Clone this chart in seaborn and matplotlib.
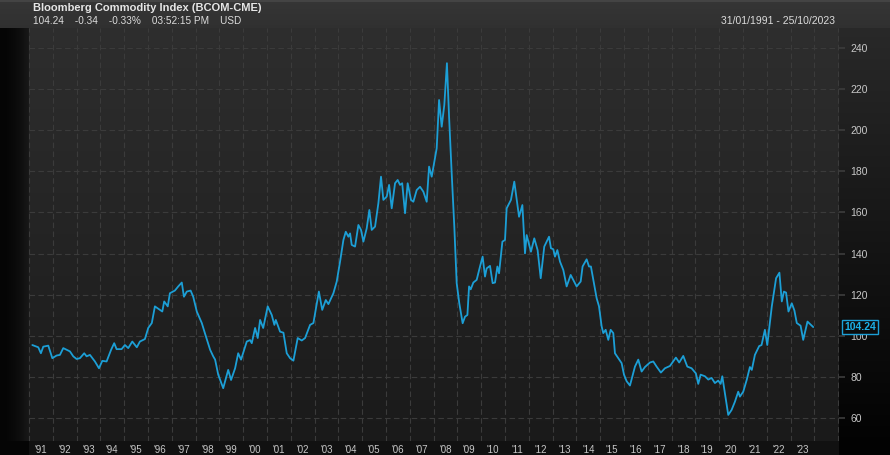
import numpy as np
import pandas as pd
import matplotlib
matplotlib.use("Agg")
import matplotlib.pyplot as plt
import seaborn as sns

# ---- data (decimal year, index level) ----
dates = [
    1991.14, 1991.39, 1991.50, 1991.60, 1991.81, 1991.98, 1992.16, 1992.30, 1992.44, 1992.58,
    1992.72, 1992.86, 1993.00, 1993.14, 1993.32, 1993.42, 1993.56, 1993.77, 1993.94, 1994.08,
    1994.26, 1994.45, 1994.58, 1994.68, 1994.89, 1995.03, 1995.17, 1995.34, 1995.53, 1995.66,
    1995.87, 1996.01, 1996.16, 1996.29, 1996.50, 1996.60, 1996.68, 1996.83, 1996.92, 1997.13,
    1997.27, 1997.42, 1997.51, 1997.63, 1997.79, 1997.90, 1998.05, 1998.26, 1998.39, 1998.61,
    1998.74, 1998.82, 1998.95, 1999.16, 1999.37, 1999.49, 1999.66, 1999.79, 1999.91, 2000.15,
    2000.29, 2000.36, 2000.50, 2000.61, 2000.71, 2000.84, 2001.03, 2001.20, 2001.31, 2001.37,
    2001.55, 2001.69, 2001.83, 2001.97, 2002.11, 2002.29, 2002.46, 2002.60, 2002.81, 2002.95,
    2003.18, 2003.32, 2003.47, 2003.58, 2003.79, 2003.93, 2004.07, 2004.21, 2004.31, 2004.42,
    2004.49, 2004.56, 2004.70, 2004.84, 2004.95, 2005.05, 2005.19, 2005.30, 2005.40, 2005.54,
    2005.68, 2005.79, 2005.89, 2006.03, 2006.13, 2006.24, 2006.38, 2006.49, 2006.59, 2006.68,
    2006.80, 2006.91, 2007.05, 2007.15, 2007.29, 2007.43, 2007.57, 2007.71, 2007.81, 2007.92,
    2008.13, 2008.23, 2008.34, 2008.45, 2008.56, 2008.65, 2008.76, 2008.87, 2008.97, 2009.08,
    2009.22, 2009.32, 2009.42, 2009.49, 2009.56, 2009.67, 2009.81, 2009.95, 2010.06, 2010.16,
    2010.23, 2010.37, 2010.48, 2010.58, 2010.68, 2010.75, 2010.89, 2011.00, 2011.07, 2011.25,
    2011.39, 2011.59, 2011.73, 2011.84, 2011.91, 2012.09, 2012.23, 2012.37, 2012.50, 2012.65,
    2012.85, 2012.93, 2013.03, 2013.10, 2013.20, 2013.31, 2013.45, 2013.59, 2013.76, 2014.01,
    2014.18, 2014.26, 2014.43, 2014.53, 2014.61, 2014.71, 2014.85, 2014.95, 2015.06, 2015.13,
    2015.23, 2015.34, 2015.44, 2015.55, 2015.62, 2015.76, 2015.90, 2016.00, 2016.11, 2016.25,
    2016.46, 2016.60, 2016.74, 2016.88, 2017.09, 2017.23, 2017.37, 2017.55, 2017.72, 2017.93,
    2018.18, 2018.32, 2018.49, 2018.66, 2018.84, 2019.02, 2019.12, 2019.22, 2019.40, 2019.54,
    2019.68, 2019.82, 2019.96, 2020.06, 2020.13, 2020.24, 2020.38, 2020.52, 2020.66, 2020.80,
    2020.87, 2021.01, 2021.16, 2021.29, 2021.37, 2021.50, 2021.68, 2021.78, 2021.92, 2022.02,
    2022.21, 2022.39, 2022.53, 2022.63, 2022.72, 2022.81, 2022.91, 2023.05, 2023.16, 2023.26,
    2023.42, 2023.53, 2023.71, 2023.95,
]
values = [
    95.5, 94.4, 91.5, 94.7, 95.2, 89.1, 90.4, 90.7, 94.0, 93.2,
    92.4, 90.0, 88.7, 89.1, 91.5, 90.0, 90.7, 87.5, 84.2, 87.8,
    87.5, 93.2, 96.4, 93.5, 93.5, 95.5, 94.0, 97.2, 94.4, 97.2,
    98.4, 103.8, 106.2, 114.3, 112.6, 111.8, 116.7, 114.3, 120.7, 122.0,
    124.0, 125.9, 119.0, 121.5, 122.0, 119.0, 111.8, 106.2, 101.3, 93.2,
    90.0, 88.4, 81.1, 74.5, 83.4, 78.5, 84.2, 91.5, 88.4, 97.2,
    97.9, 96.4, 103.8, 98.9, 107.7, 103.8, 114.3, 110.1, 105.3, 107.7,
    102.0, 101.5, 91.5, 89.1, 87.9, 98.9, 97.7, 98.9, 105.3, 106.2,
    121.5, 112.6, 117.4, 115.4, 120.7, 126.4, 136.1, 146.6, 150.6, 148.2,
    149.8, 144.2, 143.4, 153.9, 151.5, 145.8, 152.3, 161.2, 151.5, 153.1,
    164.5, 177.4, 166.1, 167.7, 173.4, 162.0, 174.2, 175.8, 173.4, 174.2,
    159.6, 174.2, 166.1, 165.2, 170.9, 172.5, 170.1, 165.2, 182.3, 177.4,
    191.2, 214.7, 201.7, 212.3, 232.6, 206.6, 179.1, 153.1, 125.6, 115.8,
    106.1, 109.3, 110.1, 124.0, 122.6, 125.9, 127.2, 133.7, 138.5, 128.8,
    132.8, 134.0, 125.6, 125.9, 133.7, 130.4, 145.8, 146.6, 162.0, 166.1,
    175.0, 157.9, 163.6, 140.1, 149.0, 140.9, 147.4, 141.7, 128.0, 143.4,
    148.2, 142.6, 142.1, 138.5, 141.7, 136.1, 132.0, 124.0, 129.6, 124.0,
    126.4, 133.7, 137.2, 133.7, 133.7, 127.2, 118.3, 114.3, 104.6, 101.3,
    102.9, 98.0, 102.9, 101.3, 91.5, 89.1, 86.7, 81.1, 77.9, 75.8,
    85.0, 88.4, 82.6, 84.8, 87.0, 87.5, 85.0, 82.1, 84.2, 85.3,
    89.4, 87.0, 90.2, 85.0, 84.2, 81.7, 76.6, 81.1, 80.3, 78.7,
    79.5, 77.0, 78.2, 76.6, 80.3, 72.0, 61.5, 63.9, 67.9, 72.8,
    70.4, 72.8, 78.7, 84.8, 83.4, 90.7, 95.0, 95.5, 102.9, 95.5,
    114.3, 128.0, 130.7, 116.7, 121.5, 121.0, 111.8, 115.8, 112.3, 106.2,
    104.9, 98.0, 106.9, 104.24,
]
years = list(range(1991, 2024))
year_labels = ["'" + str(y)[2:] for y in years]
y_ticks = [60, 80, 100, 120, 140, 160, 180, 200, 220, 240]
title = "Bloomberg Commodity Index (BCOM-CME)"
quote_line = "104.24    -0.34    -0.33%    03:52:15 PM    USD"
date_range = "31/01/1991 - 25/10/2023"
last_value = 104.24

df = pd.DataFrame({"date": dates, "value": values})

sns.set_theme(style="dark")
plt.rcParams["font.family"] = ["Liberation Sans", "DejaVu Sans"]

W, H = 890, 455
fig = plt.figure(figsize=(W / 100, H / 100), dpi=100)

# ---- background image (header, side strips, plot gradient) ----
bg = np.zeros((H, W, 3))
rows = np.arange(H)[:, None]
cols = np.arange(W)[None, :]
top, bot, left, right = 28, 441, 29, 839
g = 0.18 - (rows - top) / (bot - top) * 0.078
bg[:] = np.repeat(g[:, :, None], 3, axis=2) * np.ones((1, W, 1))
# header
hg = 0.21 - rows[:top] / top * 0.02
bg[:top, :, :] = np.repeat(hg[:, :, None], 3, axis=2) * np.ones((1, W, 1))
bg[:2, :, :] = 0.27
# left strip
lg = 0.02 + (cols[:, :left] / left) ** 2 * 0.08
bg[top:bot, :left, :] = np.repeat(lg[:, :, None], 3, axis=2)
# right strip
rg = 0.16 - (rows[top:bot] - top) / (bot - top) * 0.15
bg[top:bot, right:, :] = np.repeat(rg[:, :, None], 3, axis=2) * np.ones((1, W - right, 1))
# bottom band
bg[bot:, :, :] = 0.07
bg[bot:, :left, :] = 0.02
bg[bot:, right:, :] = 0.01
bga = fig.add_axes([0, 0, 1, 1], zorder=-5)
bga.imshow(bg, aspect="auto", extent=[0, W, H, 0], interpolation="bilinear")
bga.set_axis_off()

ax = fig.add_axes([left / W, 1 - bot / H, (right - left) / W, (bot - top) / H])
ax.patch.set_alpha(0)

px_per_year = 23.8
px_per_unit = 370 / 180
x0 = 1991.0
x1 = x0 + (right - left) / px_per_year
ymax = 240 + (48 - top) / px_per_unit
ymin = 60 - (bot - 418) / px_per_unit

sns.lineplot(data=df, x="date", y="value", ax=ax, color="#1c9fd6", linewidth=1.3)

ax.set_xlim(x0, x1)
ax.set_ylim(ymin, ymax)
ax.set_xlabel("")
ax.set_ylabel("")

grid_kw = dict(color="#3b3b3b", linestyle=(0, (5, 3)), linewidth=0.8, zorder=0)
for yr in range(1991, 2026):
    ax.axvline(yr, **grid_kw)
for yv in y_ticks:
    ax.axhline(yv, **grid_kw)
ax.grid(False)

ax.set_xticks([y + 0.5 for y in years])
ax.set_xticklabels(year_labels, fontsize=7, color="#c8c8c8")
ax.tick_params(axis="x", length=0, pad=3)

ax.yaxis.tick_right()
ax.set_yticks(y_ticks)
ax.set_yticklabels([str(v) for v in y_ticks], fontsize=7.5, color="#c8c8c8")
ax.tick_params(axis="y", length=4, color="#3b3b3b", pad=4)
for s in ax.spines.values():
    s.set_visible(False)

ax.annotate(f"{last_value:.2f}", xy=(1.0, last_value), xycoords=("axes fraction", "data"),
            xytext=(4, 0), textcoords="offset points", ha="left", va="center",
            fontsize=7.5, fontweight="bold", color="#1cb0e8", zorder=10,
            bbox=dict(boxstyle="square,pad=0.2", facecolor="#0c0c0c",
                      edgecolor="#1c9fd6", linewidth=1.0), annotation_clip=False)

fig.text(33 / W, 1 - 8 / H, title, fontsize=8, fontweight="bold", color="#e6e6e6",
         ha="left", va="center")
fig.text(33 / W, 1 - 21 / H, quote_line, fontsize=7.2, color="#dcdcdc", ha="left", va="center")
fig.text(835 / W, 1 - 21 / H, date_range, fontsize=7.5, color="#dcdcdc", ha="right", va="center")

fig.savefig("out.png", dpi=100)
